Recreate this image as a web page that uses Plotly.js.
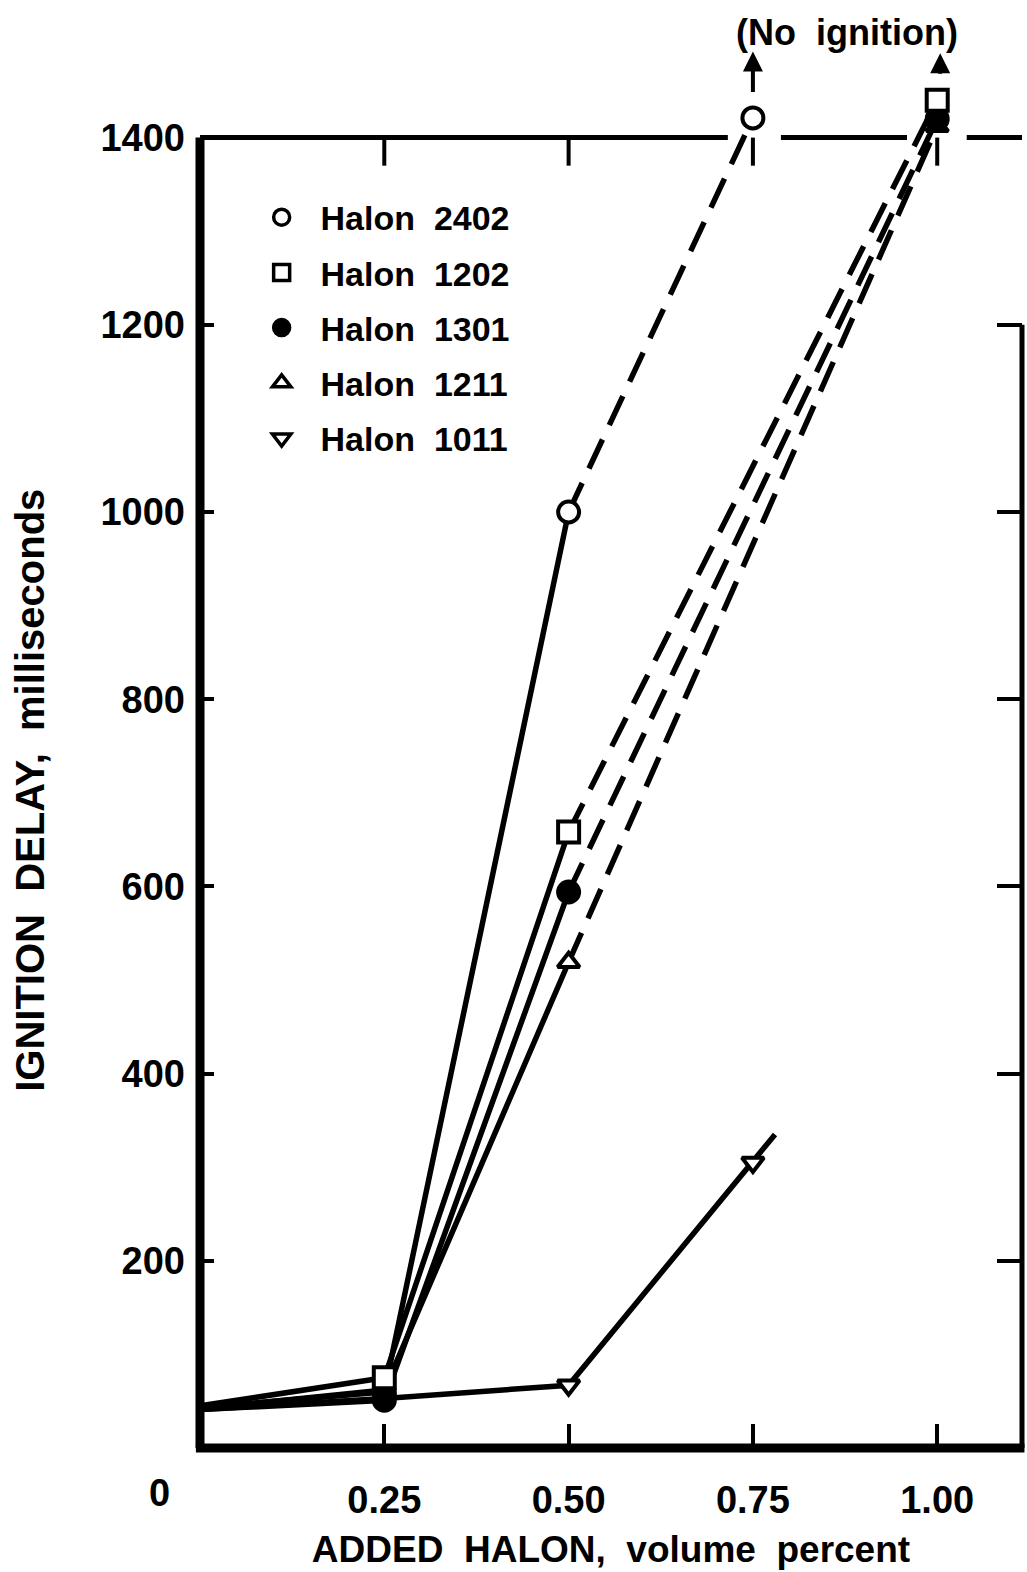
<!DOCTYPE html>
<html>
<head>
<meta charset="utf-8">
<script src="https://cdn.plot.ly/plotly-3.0.1.min.js"></script>
<style>html,body{margin:0;padding:0;background:#fff;}#chart{width:1027px;height:1572px;}</style>
</head>
<body>
<div id="chart"></div>
<script>
// ---- data (added halon, volume percent -> ignition delay, ms) ----
var names = ['Halon 2402', 'Halon 1202', 'Halon 1301', 'Halon 1211', 'Halon 1011'];
var symbols = ['circle', 'square', 'circle', 'triangle-up', 'triangle-down'];
var fills = ['#ffffff', '#ffffff', '#000000', '#ffffff', '#ffffff'];

// measured (solid) segments
var x2402 = [0, 0.25, 0.50];        var y2402 = [43, 60, 1000];
var x1202 = [0, 0.25, 0.50];        var y1202 = [45, 75, 658];
var x1301 = [0, 0.25, 0.50];        var y1301 = [41, 51, 594];
var x1211 = [0, 0.25, 0.50];        var y1211 = [42, 62, 519];
var x1011 = [0, 0.25, 0.50, 0.75, 0.78]; var y1011 = [41, 53, 67, 305, 335];

// extrapolated (dashed) segments to "no ignition"
var x2402d = [0.50, 0.75]; var y2402d = [1000, 1421];
var x1202d = [0.50, 1.00]; var y1202d = [658, 1440];
var x1301d = [0.50, 1.00]; var y1301d = [594, 1420];
var x1211d = [0.50, 1.00]; var y1211d = [519, 1412];

// plotted points (markers)
var px2402 = [0.25, 0.50, 0.75]; var py2402 = [60, 1000, 1421];
var px1202 = [0.25, 0.50, 1.00]; var py1202 = [75, 658, 1440];
var px1301 = [0.25, 0.50, 1.00]; var py1301 = [51, 594, 1420];
var px1211 = [0.25, 0.50, 1.00]; var py1211 = [62, 519, 1412];
var px1011 = [0.25, 0.50, 0.75]; var py1011 = [53, 67, 305];

var xTickVals = [0.25, 0.50, 0.75, 1.00];
var xTickText = ['0.25', '0.50', '0.75', '1.00'];
var yTickVals = [200, 400, 600, 800, 1000, 1200, 1400];
var yTickText = ['200', '400', '600', '800', '1000', '1200', '1400'];
var yRightTickVals = [200, 400, 600, 800, 1000, 1200];

// ---- styling ----
var FONT = 'Liberation Sans, Arial, sans-serif';
var BLACK = '#000000';
var XMAX = 1.115, YMAX = 1500, YTOP = 1400;

function solid(x, y) {
  return {x: x, y: y, mode: 'lines', type: 'scatter', showlegend: false, hoverinfo: 'skip',
          line: {color: BLACK, width: 5.5}, cliponaxis: false};
}
function dashed(x, y) {
  return {x: x, y: y, mode: 'lines', type: 'scatter', showlegend: false, hoverinfo: 'skip',
          line: {color: BLACK, width: 5.5, dash: '32px,16px'}, cliponaxis: false};
}
function pts(x, y, i) {
  return {x: x, y: y, mode: 'markers', type: 'scatter', showlegend: false, hoverinfo: 'skip', cliponaxis: false,
          marker: {symbol: symbols[i], size: i >= 3 ? 19 : 21, color: fills[i],
                   line: {color: BLACK, width: 4}}};
}
function legendItem(i) {
  return {x: [null], y: [null], mode: 'markers', type: 'scatter', name: '\u00a0\u00a0' + names[i].replace(' ', '\u00a0\u00a0'),
          legendgroup: 'g' + i, showlegend: true,
          marker: {symbol: symbols[i], size: 16, color: fills[i], line: {color: BLACK, width: 3.5}}};
}

var traces = [
  solid(x2402, y2402), solid(x1202, y1202), solid(x1301, y1301), solid(x1211, y1211), solid(x1011, y1011),
  dashed(x2402d, y2402d), dashed(x1202d, y1202d), dashed(x1301d, y1301d), dashed(x1211d, y1211d),
  pts(px2402, py2402, 0), pts(px1011, py1011, 4), pts(px1211, py1211, 3), pts(px1301, py1301, 2), pts(px1202, py1202, 1),
  legendItem(0), legendItem(1), legendItem(2), legendItem(3), legendItem(4)
];
// right-side tick axis
traces.push({x: [null], y: [null], yaxis: 'y2', mode: 'markers', type: 'scatter', showlegend: false, hoverinfo: 'skip'});

var shapes = [
  // left, bottom, right frame (paper refs so the thick strokes are not clipped)
  {type: 'line', xref: 'paper', yref: 'y', x0: 0, x1: 0, y0: 0, y1: YTOP, line: {color: BLACK, width: 9}},
  {type: 'line', xref: 'paper', yref: 'paper', x0: -0.005, x1: 1.003, y0: 0, y1: 0, line: {color: BLACK, width: 9}},
  {type: 'line', xref: 'paper', yref: 'y', x0: 1, x1: 1, y0: 0, y1: 1200, line: {color: BLACK, width: 5}},
  // top frame with gaps around the no-ignition points
  {type: 'line', xref: 'x', yref: 'y', x0: 0, x1: 0.716, y0: YTOP, y1: YTOP, line: {color: BLACK, width: 5}},
  {type: 'line', xref: 'x', yref: 'y', x0: 0.788, x1: 0.959, y0: YTOP, y1: YTOP, line: {color: BLACK, width: 5}},
  {type: 'line', xref: 'x', yref: 'y', x0: 1.04, x1: XMAX, y0: YTOP, y1: YTOP, line: {color: BLACK, width: 5}}
];
// top ticks
xTickVals.forEach(function (v) {
  shapes.push({type: 'line', xref: 'x', yref: 'y', x0: v, x1: v, y0: YTOP, y1: YTOP - 30, line: {color: BLACK, width: 4}});
});

var annotations = [
  {xref: 'paper', yref: 'paper', x: -0.049, y: -0.032, xanchor: 'center', yanchor: 'middle', text: '0', showarrow: false,
   font: {family: FONT, size: 38, color: BLACK, weight: 'bold'}},
  {xref: 'paper', yref: 'paper', x: -0.207, y: 0.4687, xanchor: 'center', yanchor: 'middle',
   text: 'IGNITION\u00a0\u00a0DELAY,\u00a0\u00a0milliseconds', textangle: -90,
   showarrow: false, font: {family: FONT, size: 40, color: BLACK, weight: 'bold'}},
  {xref: 'paper', yref: 'paper', x: 0.787, y: 1.0085, xanchor: 'center', yanchor: 'middle', text: '(No\u00a0\u00a0ignition)', showarrow: false,
   font: {family: FONT, size: 36, color: BLACK, weight: 'bold'}},
  {xref: 'x', yref: 'y', x: 0.75, y: 1492, ax: 0, ay: 42, text: '', showarrow: true,
   arrowhead: 2, arrowsize: 1, arrowwidth: 4, arrowcolor: BLACK},
  {xref: 'x', yref: 'y', x: 1.004, y: 1490, ax: 0, ay: 22, text: '', showarrow: true,
   arrowhead: 2, arrowsize: 1, arrowwidth: 4, arrowcolor: BLACK}
];

var layout = {
  width: 1027, height: 1572,
  margin: {l: 200, r: 5, t: 44, b: 124},
  paper_bgcolor: '#ffffff', plot_bgcolor: '#ffffff',
  font: {family: FONT, color: BLACK},
  showlegend: true,
  legend: {x: 0.075, xanchor: 'left', y: 0.897, yanchor: 'top', bgcolor: 'rgba(0,0,0,0)', borderwidth: 0,
           tracegroupgap: 8, font: {family: FONT, size: 34, color: BLACK, weight: 'bold'}},
  xaxis: {range: [0, XMAX], showgrid: false, zeroline: false, showline: false,
          tickmode: 'array', tickvals: xTickVals, ticktext: xTickText,
          ticks: 'inside', ticklen: 24, tickwidth: 4, tickcolor: BLACK, ticklabelstandoff: 26,
          tickfont: {family: FONT, size: 38, color: BLACK, weight: 'bold'},
          title: {text: 'ADDED\u00a0\u00a0HALON,\u00a0\u00a0volume\u00a0\u00a0percent', standoff: 16,
                  font: {family: FONT, size: 37, color: BLACK, weight: 'bold'}}},
  yaxis: {range: [0, YMAX], showgrid: false, zeroline: false, showline: false,
          tickmode: 'array', tickvals: yTickVals, ticktext: yTickText,
          ticks: 'inside', ticklen: 14, tickwidth: 4, tickcolor: BLACK, ticklabelstandoff: 14,
          tickfont: {family: FONT, size: 38, color: BLACK, weight: 'bold'}},
  yaxis2: {range: [0, YMAX], overlaying: 'y', side: 'right', showgrid: false, zeroline: false, showline: false,
           tickmode: 'array', tickvals: yRightTickVals, showticklabels: false,
           ticks: 'inside', ticklen: 25, tickwidth: 4, tickcolor: BLACK},
  shapes: shapes,
  annotations: annotations
};

Plotly.newPlot('chart', traces, layout, {displayModeBar: false, staticPlot: true});
</script>
</body>
</html>
